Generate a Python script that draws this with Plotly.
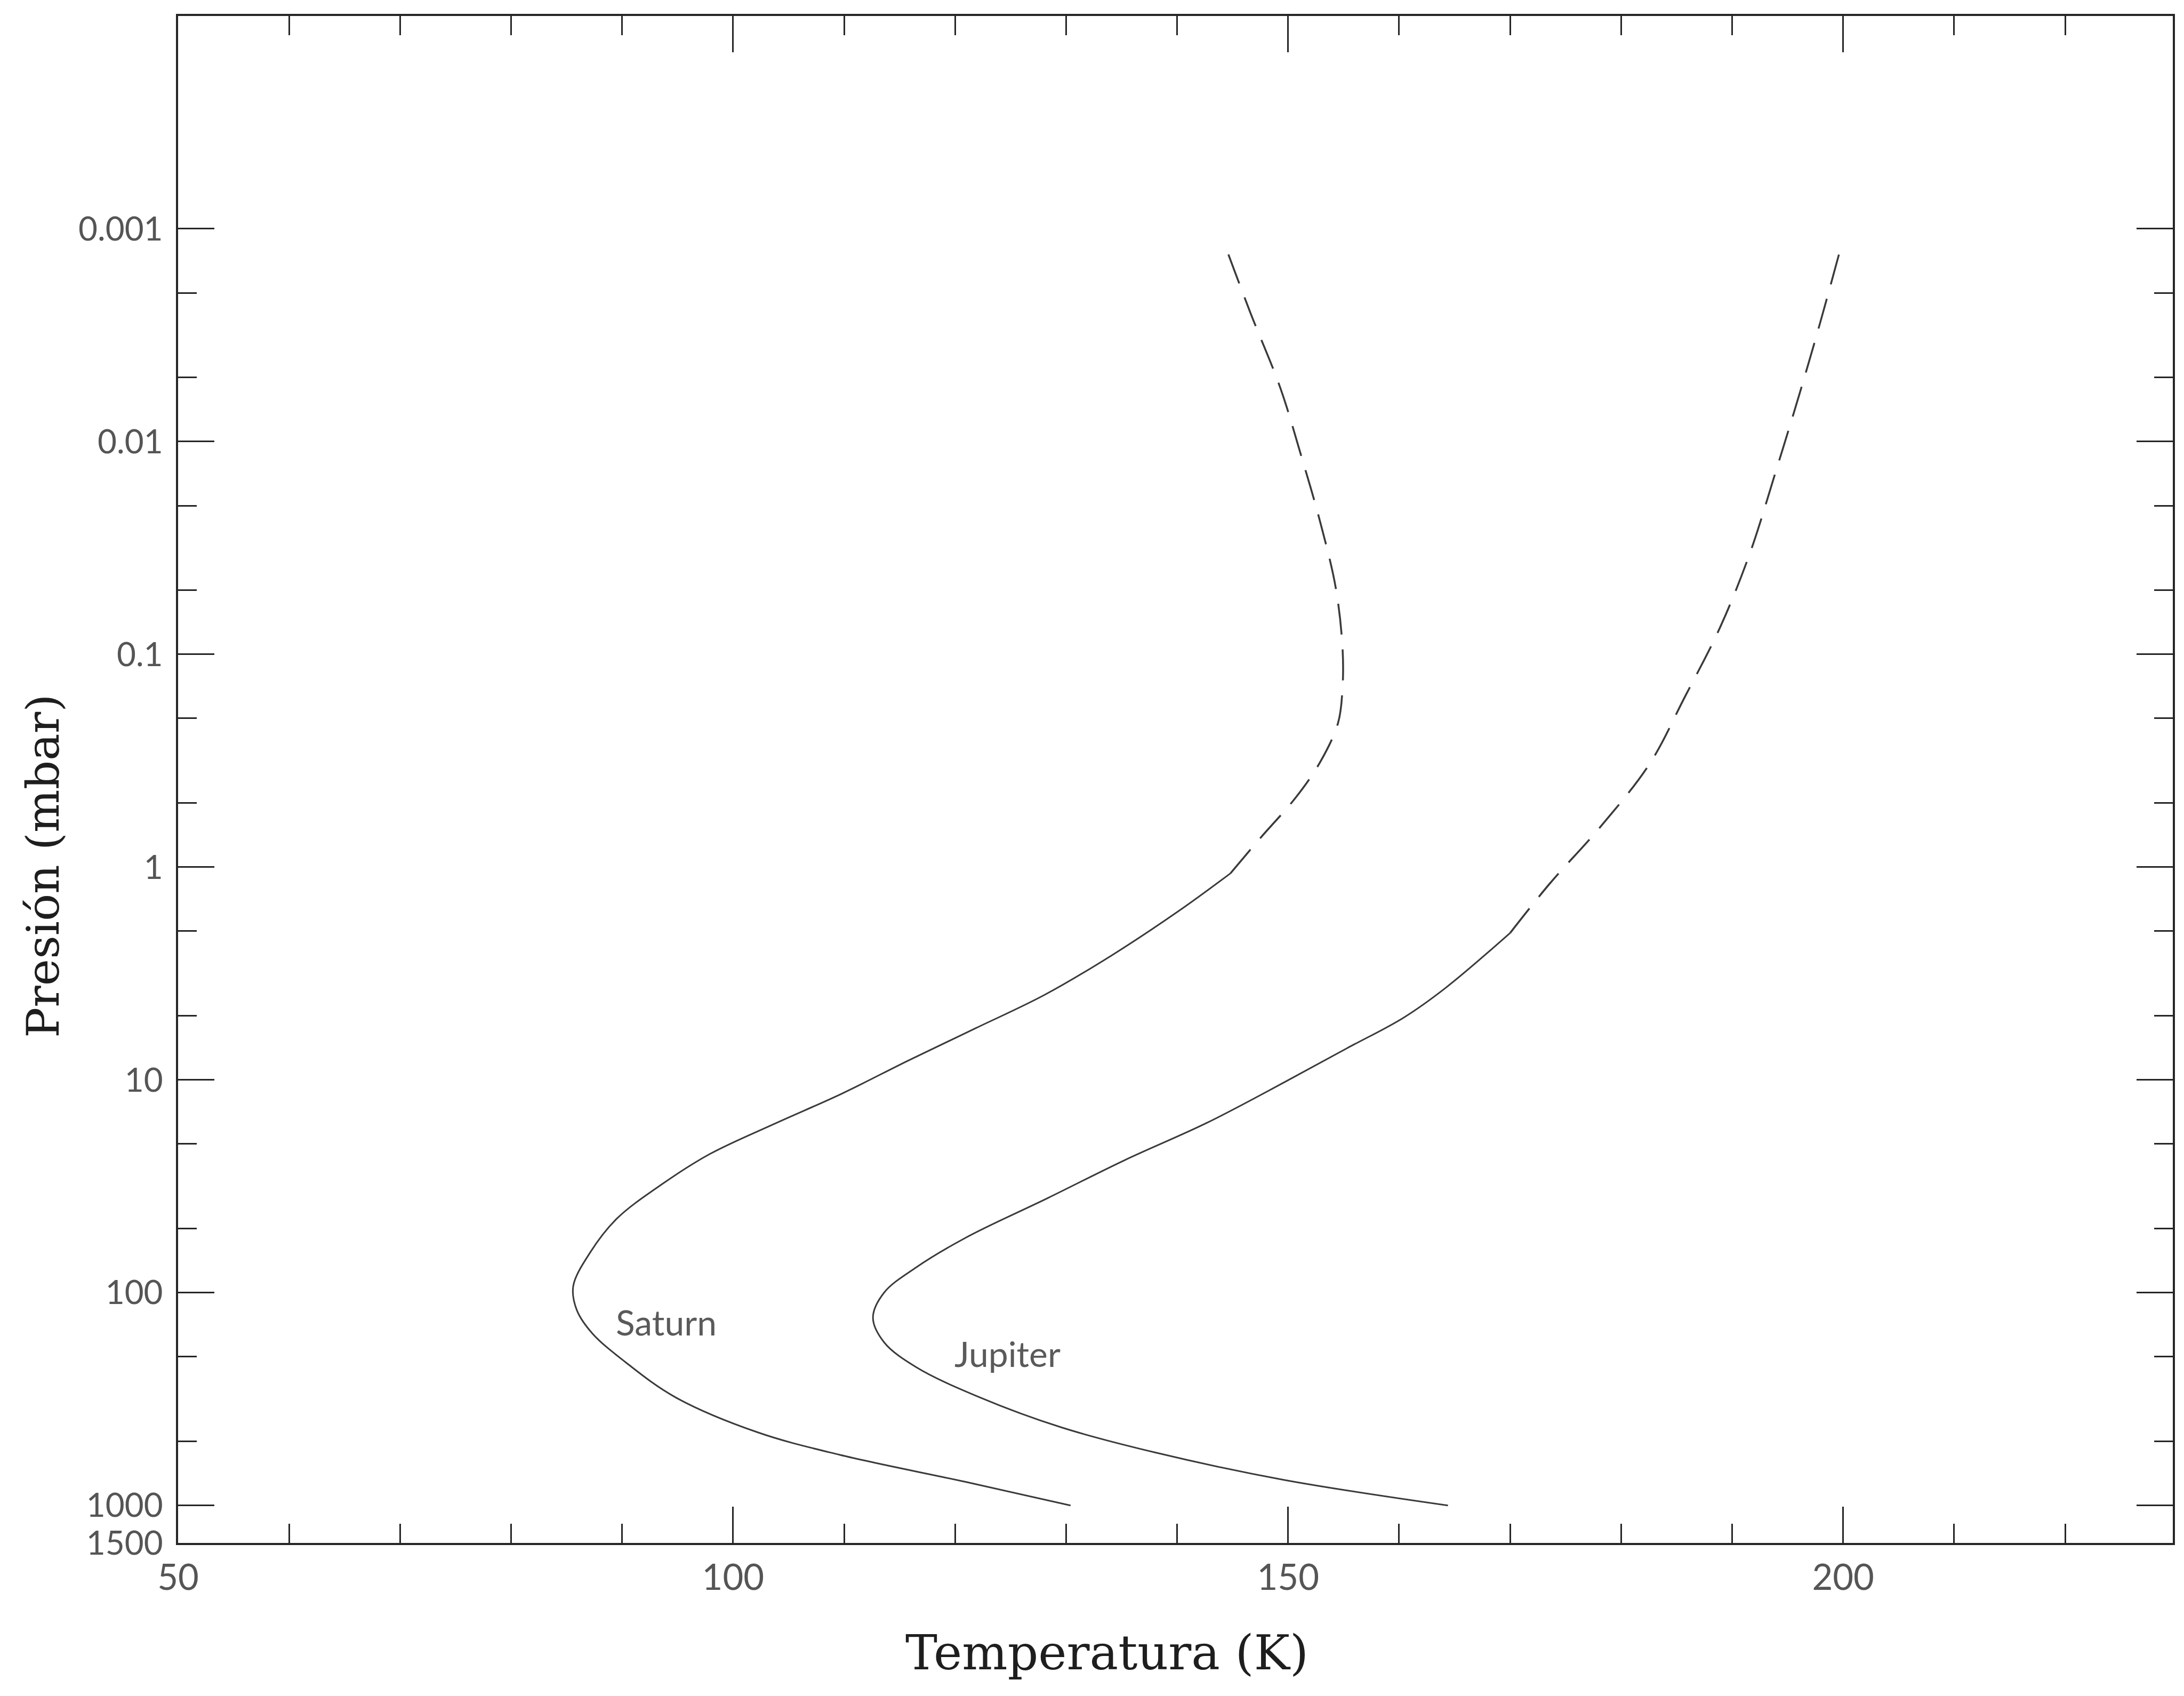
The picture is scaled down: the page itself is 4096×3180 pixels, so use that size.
import math
import plotly.graph_objects as go

# ---------------- data ----------------
# Saturn temperature profile, solid (measured) part, bottom -> top
saturn_solid_T = [130.4, 121.0, 109.6, 102.2, 94.8, 90.3, 87.3, 85.9, 85.6, 87.1,
                  89.5, 93.6, 97.9, 103.7, 109.8, 115.8, 121.9, 128.0, 134.1, 140.2, 144.8]
saturn_solid_P = [1000, 776, 578, 453, 310, 212, 155, 120, 93, 65,
                  45, 30.9, 22.3, 16.1, 11.6, 8.1, 5.7, 4.0, 2.6, 1.6, 1.07]
# Saturn, dashed (extrapolated) part
saturn_dash_T = [144.8, 147.5, 150.7, 152.9, 154.5, 154.9, 154.9, 154.3, 152.9,
                 151.1, 149.3, 146.6, 144.4]
saturn_dash_P = [1.07, 0.73, 0.47, 0.32, 0.21, 0.144, 0.093, 0.049, 0.024,
                 0.0113, 0.0056, 0.00248, 0.00123]

# Jupiter temperature profile, solid part
jupiter_solid_T = [164.4, 149.6, 138.1, 129.6, 122.2, 116.5, 113.6, 112.6, 113.6,
                   116.5, 121.0, 128.4, 135.3, 142.7, 149.6, 155.3, 160.4, 164.2, 170.0]
jupiter_solid_P = [1000, 758, 565, 430, 310, 224, 171, 131, 100,
                   76, 55, 35.8, 23.8, 15.9, 10.3, 7.1, 5.1, 3.69, 2.04]
# Jupiter, dashed part
jupiter_dash_T = [170.0, 173.6, 178.1, 182.6, 185.7, 188.9, 191.6, 193.9, 196.1,
                  197.9, 199.8]
jupiter_dash_P = [2.04, 1.19, 0.65, 0.325, 0.16, 0.075, 0.0335, 0.014, 0.0059,
                  0.0028, 0.00122]

# axis ticks
x_tick_vals = [50, 100, 150, 200]
x_tick_text = ["50", "100", "150", "200"]
x_minor_vals = [60, 70, 80, 90, 110, 120, 130, 140, 160, 170, 180, 190, 210, 220]
y_tick_vals = [0.001, 0.01, 0.1, 1, 10, 100, 1000, 1500]
y_tick_text = ["0.001", "0.01", "0.1", "1", "10", "100", "1000", "1500"]
y_minor_vals = [2e-3, 5e-3, 2e-2, 5e-2, 0.2, 0.5, 2, 5, 20, 50, 200, 500]

labels = ["Saturn", "Jupiter"]
label_T = [94.0, 124.7]
label_logP = [2.136, 2.286]

# ---------------- figure ----------------
W, H = 4096, 3180
ML, MR, MT, MB = 334, 21, 30, 287
PW, PH = W - ML - MR, H - MT - MB

line_col = "#3a3a3a"
axis_col = "#262626"

fig = go.Figure()
common = dict(mode="lines", hoverinfo="skip", showlegend=False)
fig.add_trace(go.Scatter(x=saturn_solid_T, y=saturn_solid_P,
                         line=dict(color=line_col, width=3, shape="spline", smoothing=1.0), **common))
fig.add_trace(go.Scatter(x=saturn_dash_T, y=saturn_dash_P,
                         line=dict(color=line_col, width=3.5, shape="spline", smoothing=1.0,
                                   dash="58px,28px"), **common))
fig.add_trace(go.Scatter(x=jupiter_solid_T, y=jupiter_solid_P,
                         line=dict(color=line_col, width=3, shape="spline", smoothing=1.0), **common))
fig.add_trace(go.Scatter(x=jupiter_dash_T, y=jupiter_dash_P,
                         line=dict(color=line_col, width=3.5, shape="spline", smoothing=1.0,
                                   dash="58px,28px"), **common))

x_tick_font = dict(family="Lato", size=67, color="#555555")
y_tick_font = dict(family="Lato", size=62, color="#555555")

fig.update_xaxes(
    range=[50, 229.7], showgrid=False, zeroline=False,
    showline=True, linecolor=axis_col, linewidth=4, mirror="ticks",
    ticks="inside", ticklen=68, tickwidth=3, tickcolor=axis_col,
    tickvals=x_tick_vals, ticktext=x_tick_text, tickfont=x_tick_font,
    ticklabelstandoff=4,
    minor=dict(tickvals=x_minor_vals, ticks="inside", ticklen=36, tickwidth=3,
               tickcolor=axis_col, showgrid=False),
)
fig.update_yaxes(
    type="log", range=[math.log10(1500), -4], showgrid=False, zeroline=False,
    showline=True, linecolor=axis_col, linewidth=4, mirror="ticks",
    ticks="inside", ticklen=68, tickwidth=3, tickcolor=axis_col,
    tickvals=y_tick_vals, ticktext=y_tick_text, tickfont=y_tick_font,
    ticklabelstandoff=12,
    minor=dict(tickvals=y_minor_vals, ticks="inside", ticklen=35, tickwidth=3,
               tickcolor=axis_col, showgrid=False),
)

annotations = []
for name, t, lp in zip(labels, label_T, label_logP):
    annotations.append(dict(x=t, y=lp, xref="x", yref="y", text=name, showarrow=False,
                            xanchor="center", yanchor="middle",
                            font=dict(family="Lato", size=66, color="#5a5a5a")))

annotations.append(dict(x=(2076 - ML) / PW, y=(H - MB - 3098) / PH, xref="paper", yref="paper",
                        text="Temperatura (K)", showarrow=False, xanchor="center",
                        yanchor="middle",
                        font=dict(family="DejaVu Serif", size=90, color="#1e1e1e")))
annotations.append(dict(x=(80 - ML) / PW, y=(H - MB - 1624) / PH, xref="paper", yref="paper",
                        text="Presión (mbar)", showarrow=False, xanchor="center",
                        yanchor="middle", textangle=-90,
                        font=dict(family="DejaVu Serif", size=85, color="#1e1e1e")))

fig.update_layout(width=W, height=H, margin=dict(l=ML, r=MR, t=MT, b=MB, autoexpand=False),
                  plot_bgcolor="white", paper_bgcolor="white", showlegend=False,
                  annotations=annotations)

fig.write_html("out.html")
